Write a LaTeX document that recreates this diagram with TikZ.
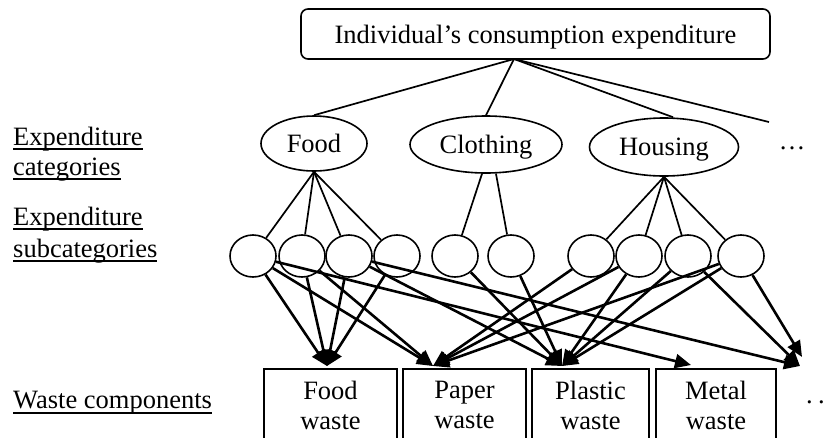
\documentclass[tikz,border=0pt]{standalone}
\usepackage{fontspec}
\setmainfont{Liberation Serif}
\usetikzlibrary{shapes.geometric,arrows.meta}
% underline with a fixed offset below the baseline
\newcommand{\undl}[1]{\setbox0\hbox{#1}\rlap{\rule[-5pt]{\wd0}{1.8pt}}\box0}

\begin{document}
\begin{tikzpicture}[x=1pt,y=-1pt,
  every node/.style={font=\fontsize{26.5}{30}\selectfont},
  topbox/.style={draw, rounded corners=7pt, line width=1.6pt, minimum width=469, minimum height=50, inner sep=0, text depth=0pt},
  cat/.style={ellipse, draw, line width=1.6pt, inner sep=0, text depth=0pt},
  sub/.style={ellipse, draw, line width=1.6pt, minimum width=46, minimum height=42, inner sep=0},
  waste/.style={draw, line width=2pt, anchor=north, minimum height=72, inner sep=0, align=center},
  lbl/.style={anchor=base west, inner sep=0},
  tree/.style={line width=1.7pt},
  flow/.style={line width=2.6pt, -{Triangle[length=16pt,width=14pt]}}]

\useasboundingbox (0,0) rectangle (827,437);
\clip (0,0) rectangle (827,437);

% level labels
\node[lbl] (l1) at (13,145) {\undl{Expenditure}};
\node[lbl] (l2) at (13,175) {\undl{categories}};
\node[lbl] (l3) at (13,225) {\undl{Expenditure}};
\node[lbl] (l4) at (13,257) {\undl{subcategories}};
\node[lbl] (l5) at (13,408.5) {\undl{Waste components}};

% root
\node[topbox] (top) at (535.5,34) {Individual’s consumption expenditure};
\coordinate (hub) at (514,59);

% expenditure categories
\node[cat, minimum width=106, minimum height=55] (food)  at (314,143.5) {Food};
\node[cat, minimum width=152, minimum height=57] (cloth) at (486,144.5) {Clothing};
\node[cat, minimum width=149, minimum height=58] (house) at (664,147) {Housing};
\node[anchor=base, inner sep=0] (more) at (792,149) {…};
\coordinate (moreend) at (769,122);

\draw[tree] (hub) -- (food.north);
\draw[tree] (hub) -- (cloth.north);
\draw[tree] (hub) -- ([xshift=9]house.north);
\draw[tree] (hub) -- (moreend);

% subcategories
\foreach \i/\x in {1/253,2/302,3/349,4/397,5/455,6/511,7/591,8/639,9/688,10/741}
  \node[sub] (s\i) at (\x,256) {};

\foreach \i in {1,2,3,4} \draw[tree] (food.south) -- (s\i);
\draw[tree] ([xshift=-4]cloth.south) -- (s5);
\draw[tree] ([xshift=10]cloth.south) -- (s6);
\foreach \i in {7,8,9,10} \draw[tree] (house.south) -- (s\i);

% waste components
\node[waste, minimum width=133] (fw) at (330.5,368) {Food\\waste};
\node[waste, minimum width=123] (pw) at (464.5,368) {Paper\\waste};
\node[waste, minimum width=117] (lw) at (590.5,368) {Plastic\\waste};
\node[waste, minimum width=120] (mw) at (716,368) {Metal\\waste};
\node[anchor=base west, inner sep=0] (wmore) at (806,403) {.\kern5.4pt.\kern5.4pt.};

% arrow targets on the component boxes
\coordinate (tfw) at (327,366);
\coordinate (tpw) at (433,366);
\coordinate (tpl) at (562,366);
\coordinate (tmw) at (691,365);
\coordinate (tda) at (802,357);
\coordinate (tdb) at (800,366);

% flows from subcategories to waste components
\foreach \i in {1,2,3,4} \draw[flow] (s\i) -- (tfw);
\draw[flow] (s1) -- (tpw);
\draw[flow] (s1) -- (tmw);
\draw[flow] (s2) -- (tpw);
\draw[flow] (s3) -- (tpl);
\draw[flow] (s3) -- (tdb);
\draw[flow] (s5) -- (tpl);
\draw[flow] (s6) -- (tpl);
\draw[flow] (s7) -- (tpw);
\draw[flow] (s8) -- (tpw);
\draw[flow] (s8) -- (tpl);
\draw[flow] (s9) -- (tpl);
\draw[flow] (s9) -- (tdb);
\draw[flow] (s10) -- (tpw);
\draw[flow] (s10) -- (tpl);
\draw[flow] (s10) -- (tda);
\end{tikzpicture}
\end{document}
